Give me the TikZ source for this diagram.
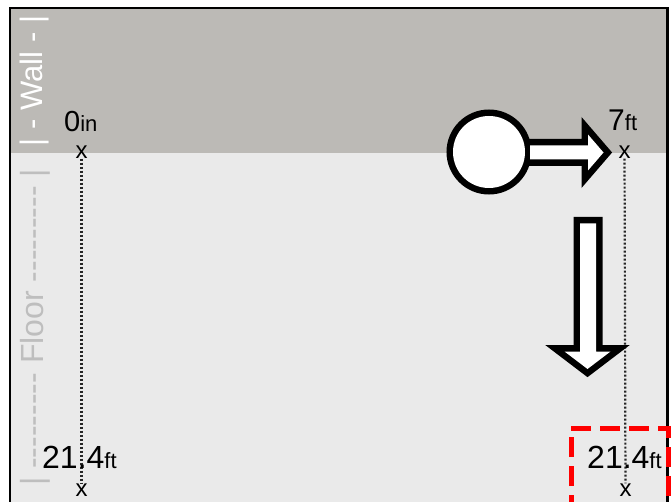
\documentclass[tikz,border=0pt]{standalone}
\usepackage{fontspec}
\setmainfont{Liberation Sans}
\usetikzlibrary{positioning}
\definecolor{wallgray}{HTML}{BCBAB6}
\definecolor{floorgray}{HTML}{EAEAEA}
\definecolor{floortext}{HTML}{BEBEBE}
\newcommand{\distlab}[3]{{\fontsize{#1}{#1}\selectfont #2}{\fontsize{22}{22}\selectfont #3}}

\begin{document}
\begin{tikzpicture}[x=1pt, y=-1pt,
  xmark/.style={inner sep=0pt, font=\fontsize{24}{24}\selectfont},
  distlabel/.style={inner sep=0pt, anchor=base west},
  guide/.style={line width=2.2pt, black!85, dash pattern=on 2pt off 2pt},
  sidelabel/.style={inner sep=0pt, rotate=90}]
  \useasboundingbox (0,0) rectangle (671,502);
  % room
  \fill[white] (0,0) rectangle (671,502);
  \fill[floorgray] (10,8) rectangle (667.5,520);
  \fill[wallgray] (10,8) rectangle (667.5,153);
  \draw[line width=2.5pt] (10,520) -- (10,8) -- (667.5,8) -- (667.5,520);
  % side texts
  \node[sidelabel, white, font=\fontsize{31}{31}\selectfont] (wall) at (35,81) {| - Wall - |};
  \node[sidelabel, floortext, font=\fontsize{32}{32}\selectfont] (floor) at (35,327.5)
    {| -{}-{}-{}-{}-{}-{}-{}-{}- Floor -{}-{}-{}-{}-{}-{}-{}-{}- |};
  % marks and guides
  \node[xmark] (xtl) at (81.5,152) {x};
  \node[xmark] (xbl) at (81.5,490) {x};
  \node[xmark] (xtr) at (624.5,152) {x};
  \node[xmark] (xbr) at (625.5,490) {x};
  \draw[guide] (xtl) -- (xbl);
  \draw[guide] (xtr) -- (xbr);
  % distances
  \node[distlabel] (dtl) at (64,132) {\distlab{29}{0}{in}};
  \node[distlabel] (dtr) at (608,131) {\distlab{30}{7}{ft}};
  \node[distlabel] (dbl) at (42,468) {\distlab{32}{21.4}{ft}};
  \node[distlabel] (dbr) at (587,468) {\distlab{32}{21.4}{ft}};
  % highlight
  \draw[red, line width=5pt, dash pattern=on 20pt off 9pt] (571,515) -- (571,428) -- (668,428) -- (668,515);
  % robot moving right
  \draw[line width=13pt, miter limit=4] (489,152) circle[radius=36]
    (530,145.5) -- (588,145.5) -- (588,134.5) -- (603.5,152.5) -- (588,170.5) -- (588,159.5) -- (530,159.5) -- cycle;
  \fill[white] (489,152) circle[radius=36]
    (530,145.5) -- (588,145.5) -- (588,134.5) -- (603.5,152.5) -- (588,170.5) -- (588,159.5) -- (530,159.5) -- cycle;
  % moving down
  \draw[line width=13pt] (580,223.5) -- (596,223.5) -- (596,351.5) -- (610.5,351.5) -- (587.5,369) -- (564.5,351.5) -- (580,351.5) -- cycle;
  \fill[white] (580,223.5) -- (596,223.5) -- (596,351.5) -- (610.5,351.5) -- (587.5,369) -- (564.5,351.5) -- (580,351.5) -- cycle;
\end{tikzpicture}
\end{document}
